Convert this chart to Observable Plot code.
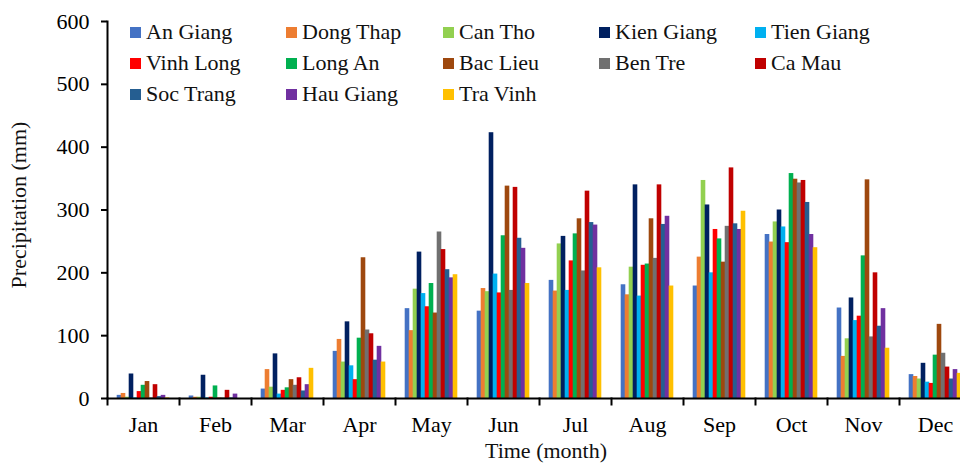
<!DOCTYPE html>
<html>
<head>
<meta charset="utf-8">
<script src="https://cdn.jsdelivr.net/npm/d3@7"></script>
<script src="https://cdn.jsdelivr.net/npm/@observablehq/plot@0.6"></script>
<style>
  html, body { margin: 0; padding: 0; overflow: hidden; background: #fff; }
  #wrap { position: relative; width: 960px; height: 463px; overflow: hidden; }
  #wrap svg { position: absolute; left: 0; top: 0; max-width: none !important; }
  .lbl { position: absolute; font-family: "Liberation Serif", "Times New Roman", serif; color: #111; white-space: nowrap; line-height: 22px; font-size: 22px; }
  .item { position: absolute; display: flex; align-items: center; height: 22px; font-family: "Liberation Serif", "Times New Roman", serif; font-size: 22px; line-height: 22px; color: #111; white-space: nowrap; }
  .sw { width: 11px; height: 11px; margin-right: 5px; flex: none; }
</style>
</head>
<body>
<div id="wrap"></div>
<script>
// ---- data ----
const months = ["Jan", "Feb", "Mar", "Apr", "May", "Jun", "Jul", "Aug", "Sep", "Oct", "Nov", "Dec"];
const stations = ["An Giang", "Dong Thap", "Can Tho", "Kien Giang", "Tien Giang",
                  "Vinh Long", "Long An", "Bac Lieu", "Ben Tre", "Ca Mau",
                  "Soc Trang", "Hau Giang", "Tra Vinh"];
const colors = ["#4472C4", "#ED7D31", "#92D050", "#002060", "#00B0F0",
                "#FF0000", "#00B050", "#9E480E", "#707070", "#C00000",
                "#255E91", "#7030A0", "#FFC000"];
const yTicks = [0, 100, 200, 300, 400, 500, 600];

const anGiang   = [5, 4, 15, 75, 143, 139, 188, 181, 179, 261, 144, 38];
const dongThap  = [8, 2, 46, 94, 108, 175, 171, 165, 225, 249, 67, 35];
const canTho    = [2, 2, 18, 58, 174, 170, 246, 209, 347, 281, 95, 31];
const kienGiang = [39, 37, 71, 122, 233, 423, 258, 340, 308, 300, 160, 56];
const tienGiang = [1, 1, 7, 52, 167, 198, 172, 163, 200, 273, 124, 26];
const vinhLong  = [11, 2, 13, 30, 146, 168, 219, 212, 269, 248, 131, 24];
const longAn    = [21, 20, 17, 96, 183, 259, 262, 214, 254, 358, 227, 69];
const bacLieu   = [27, 1, 30, 224, 136, 338, 286, 286, 217, 349, 348, 118];
const benTre    = [1, 1, 21, 109, 265, 172, 203, 223, 274, 343, 98, 72];
const caMau     = [22, 13, 33, 103, 237, 336, 330, 340, 367, 347, 200, 50];
const socTrang  = [3, 1, 12, 61, 205, 255, 280, 277, 278, 312, 115, 31];
const hauGiang  = [5, 7, 22, 83, 192, 239, 276, 290, 269, 261, 143, 46];
const traVinh   = [1, 0, 48, 58, 197, 183, 208, 179, 298, 240, 80, 40];

const series = [anGiang, dongThap, canTho, kienGiang, tienGiang, vinhLong, longAn,
                bacLieu, benTre, caMau, socTrang, hauGiang, traVinh];

const rows = months.flatMap((m, i) => stations.map((s, j) => ({month: m, station: s, value: series[j][i]})));

// ---- chart ----
const W = 980, H = 463, mL = 103, mR = 6, mT = 21, mB = 65;
const innerH = H - mT - mB;
const serif = "'Liberation Serif', 'Times New Roman', serif";

const chart = Plot.plot({
  width: W, height: H,
  marginLeft: mL, marginRight: mR, marginTop: mT, marginBottom: mB,
  style: {fontFamily: serif, fontSize: "21px", color: "#000", background: "transparent", overflow: "visible", maxWidth: "none"},
  fx: {domain: months, padding: 0, label: null, axis: null},
  x: {domain: stations, paddingInner: 0, paddingOuter: 1.15, axis: null},
  y: {domain: [0, 600], axis: null},
  color: {domain: stations, range: colors},
  marks: [
    Plot.barY(rows, {fx: "month", x: "station", y: "value", fill: "station", insetLeft: -0.3, insetRight: -0.3}),
    Plot.ruleY([0], {stroke: "#000", strokeWidth: 2}),
    Plot.frame({anchor: "left", insetTop: innerH, insetBottom: -6, stroke: "#000", strokeWidth: 2}),
    Plot.frame({anchor: "left", facetAnchor: "left", stroke: "#000", strokeWidth: 2}),
    Plot.axisY({ticks: yTicks, tickSize: 6, tickPadding: 12, fontSize: 22, fontFamily: serif, fill: "#000", stroke: "#000", strokeWidth: 2, label: null, tickFormat: d => String(d)}),
    Plot.axisFx({anchor: "bottom", tickSize: 0, tickPadding: 18, fontSize: 22, fontFamily: serif, fill: "#000", label: null})
  ]
});
chart.style.maxWidth = "none";
chart.style.width = W + "px";
chart.style.height = H + "px";

const wrap = document.getElementById("wrap");
wrap.appendChild(chart);

// ---- titles ----
const yTitle = document.createElement("div");
yTitle.className = "lbl";
yTitle.textContent = "Precipitation (mm)";
yTitle.style.left = "19px";
yTitle.style.top = "205px";
yTitle.style.transform = "translate(-50%, -50%) rotate(-90deg)";
wrap.appendChild(yTitle);

const xTitle = document.createElement("div");
xTitle.className = "lbl";
xTitle.textContent = "Time (month)";
xTitle.style.left = "546px";
xTitle.style.top = "440px";
xTitle.style.transform = "translateX(-50%)";
wrap.appendChild(xTitle);

// ---- legend (5 columns, row-major) ----
const colX = [130, 286, 443, 599, 755];
const rowY = [32, 63, 94];
stations.forEach((s, k) => {
  const it = document.createElement("div");
  it.className = "item";
  it.style.left = colX[k % 5] + "px";
  it.style.top = (rowY[Math.floor(k / 5)] - 11) + "px";
  const sw = document.createElement("span");
  sw.className = "sw";
  sw.style.background = colors[k];
  const tx = document.createElement("span");
  tx.textContent = s;
  it.appendChild(sw);
  it.appendChild(tx);
  wrap.appendChild(it);
});
</script>
</body>
</html>
